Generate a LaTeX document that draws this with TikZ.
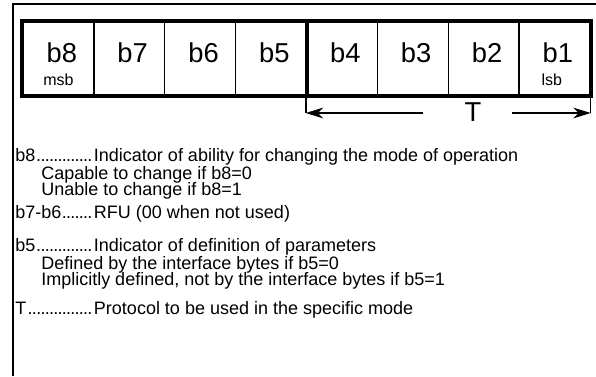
\documentclass[tikz,border=0pt]{standalone}
\usepackage{fontspec}
\setmainfont{Liberation Sans}
\usetikzlibrary{arrows.meta}
\newcommand{\bitlead}[1]{\makebox[59pt][l]{#1\leaders\hbox to 3.2pt{\hss.\hss}\hfill}}
\tikzset{
  cell/.style={draw, line width=1.1pt, rectangle, inner sep=0pt,
    minimum width=53.16pt, minimum height=54.75pt},
  biglabel/.style={font=\fontsize{20.5}{20}\selectfont, inner sep=0pt},
  sublabel/.style={font=\fontsize{12}{12}\selectfont, inner sep=0pt},
  desc/.style={font=\fontsize{13.5}{16}\selectfont, inner sep=0pt, anchor=west},
  tarrow/.style={line width=1.1pt, -{Stealth[length=13pt, width=8pt, inset=4pt]}}
}
\begin{document}
\begin{tikzpicture}[x=0.75pt,y=-0.75pt]
\useasboundingbox (0,0) rectangle (596,376);
% frame
\draw[line width=0.8pt] (13,376)--(13,4)--(596,4);
% register cells
\foreach \i in {8,7,...,1}{
  \node[cell] (b\i) at ({23+70.875*(8.5-\i)},58.5) {};
  \node[biglabel] at ([xshift=2.5pt,yshift=4pt]b\i.center) {b\i};
}
\draw[line width=3pt] (b8.north west) rectangle (b1.south east);
\draw[line width=3pt] (b5.north east)--(b5.south east);
\node[sublabel] at ([yshift=-16pt]b8.center) {msb};
\node[sublabel] at ([xshift=-2pt,yshift=-16pt]b1.center) {lsb};
% T field
\node[biglabel] (T) at (473,112) {T};
\coordinate (la) at (423,113);
\coordinate (ra) at (512,113);
\draw[line width=1.1pt] (b4.south west)--(b4.south west |- la);
\draw[line width=1.1pt] (b1.south east)--(b1.south east |- ra);
\draw[tarrow] (la)--(b4.south west |- la);
\draw[tarrow] (ra)--(b1.south east |- ra);
% description
\node[desc] (d8) at (15,157) {\bitlead{b8}Indicator of ability for changing the mode of operation};
\node[desc] (d8a) at (41,175) {Capable to change if b8=0};
\node[desc] (d8b) at (41,191) {Unable to change if b8=1};
\node[desc] (d76) at (15,214) {\bitlead{b7-b6}RFU (00 when not used)};
\node[desc] (d5) at (15,247) {\bitlead{b5}Indicator of definition of parameters};
\node[desc] (d5a) at (41,265) {Defined by the interface bytes if b5=0};
\node[desc] (d5b) at (41,281) {Implicitly defined, not by the interface bytes if b5=1};
\node[desc] (dT) at (15,310) {\bitlead{T}Protocol to be used in the specific mode};
\end{tikzpicture}
\end{document}
